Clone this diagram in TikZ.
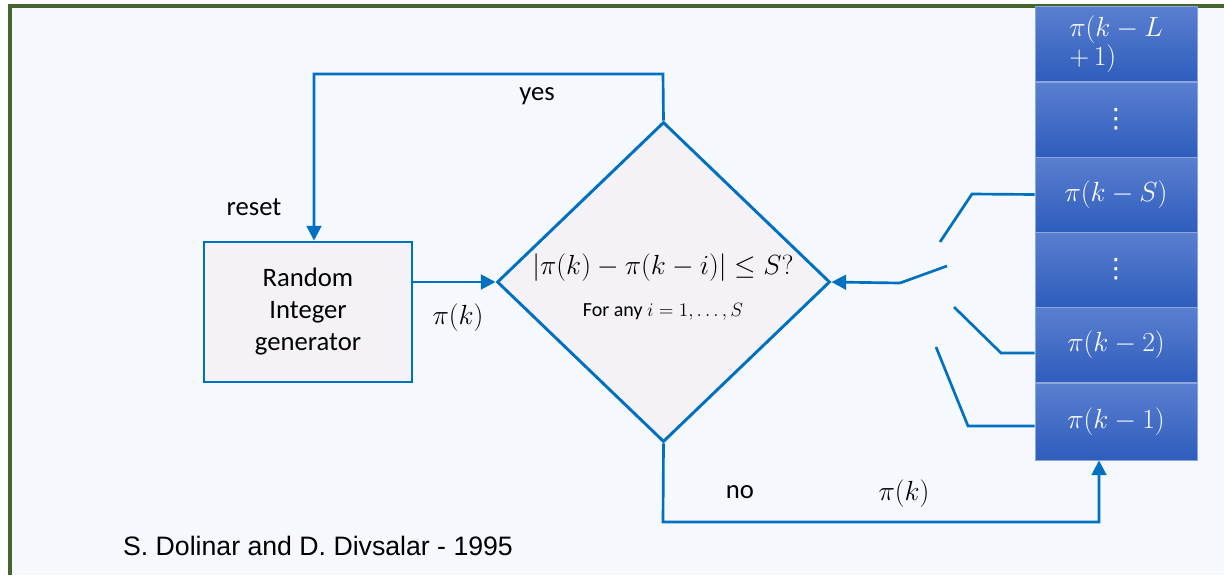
\documentclass[tikz,border=0pt]{standalone}
\usepackage{fontspec}
\setmainfont{Carlito}
\newfontfamily\arialfont{Liberation Sans}
\newfontfamily\symbfont{DejaVu Sans}
\usetikzlibrary{calc,shapes.geometric,arrows.meta}

\definecolor{lineblue}{HTML}{0070C0}
\definecolor{boxfill}{HTML}{F4F2F6}
\definecolor{paper}{HTML}{F5F8FC}
\definecolor{framegreen}{HTML}{44652C}
\definecolor{celltop}{HTML}{5A7FD0}
\definecolor{cellbot}{HTML}{2E5DBC}

\tikzset{
  flow/.style={draw=lineblue, line width=2pt},
  tip/.style={-{Triangle[length=11pt,width=11pt]}},
  block/.style={draw=lineblue, line width=2.2pt, fill=boxfill},
  cell/.style={draw=celltop!70!white, line width=0.6pt, top color=celltop, bottom color=cellbot,
    text=white, minimum width=121.5pt, minimum height=56.25pt, inner sep=0pt}
}

\begin{document}
\begin{tikzpicture}[x=0.75pt,y=-0.75pt,font=\fontsize{20}{24}\selectfont]
\useasboundingbox (0,0) rectangle (1224,575);
\fill[white] (0,0) rectangle (1224,575);
\fill[paper] (10,6) rectangle (1224,575);
\draw[framegreen, line width=2.5pt] (10,575) -- (10,6) -- (1224,6);

% generator and test
\node[block, minimum width=156pt, minimum height=105pt, align=center] (rig) at (308,312) {Random\\Integer\\generator};
\node[block, diamond, minimum width=249.75pt, minimum height=240pt, inner sep=0pt] (test) at (663.5,282) {};
\node (cond) at (663,268) {$|\pi(k)-\pi(k-i)|\leq S?$};
\node[font=\fontsize{15}{18}\selectfont] (range) at (663,312) {For any $i=1,\ldots,S$};

% shift register
\node[cell, align=left] (cL) at (1116,44) {$\pi(k-L$\\[-2pt]$+\,1)$};
\node[cell, font=\symbfont\fontsize{20}{24}\selectfont] (cd1) at (1116,119.5) {⋮};
\node[cell] (cS) at (1116,194.5) {$\pi(k-S)$};
\node[cell, font=\symbfont\fontsize{20}{24}\selectfont] (cd2) at (1116,269.5) {⋮};
\node[cell] (c2) at (1116,345) {$\pi(k-2)$};
\node[cell, minimum height=57.75pt] (c1) at (1116,421.5) {$\pi(k-1)$};

% connectors
\draw[flow,tip] (rig.east |- test.west) -- (test.west);
\coordinate (yesturn) at (663,74);
\draw[flow,tip] (test.north) -- (yesturn) -| ($(rig.north)+(6,0)$);
\coordinate (noturn) at (663,522);
\draw[flow,tip] (test.south) -- (noturn) -| ($(c1.south)+(-17,0)$);

% switch
\coordinate (pole) at (900,283);
\coordinate (poletip) at (947,266);
\draw[flow,tip] (pole) -- (test.east);
\draw[flow] (pole) -- (poletip);
\coordinate (kS) at (972,194);
\coordinate (kSend) at (940,242);
\draw[flow] (cS.west) -- (kS) -- (kSend);
\coordinate (k2) at (1001,353);
\coordinate (k2end) at (954,307);
\draw[flow] (c2.west |- k2) -- (k2) -- (k2end);
\coordinate (k1) at (968,426);
\coordinate (k1end) at (936,347);
\draw[flow] (c1.west |- k1) -- (k1) -- (k1end);

% labels
\node (yes) at (537,96) {yes};
\node (reset) at (254,207) {reset};
\node (no) at (740,492) {no};
\node (pkin) at (458,318) {$\pi(k)$};
\node (pkout) at (904,494) {$\pi(k)$};
\node[font=\arialfont\fontsize{20}{24}\selectfont] (credit) at (318,546) {S. Dolinar and D. Divsalar - 1995};
\end{tikzpicture}
\end{document}
